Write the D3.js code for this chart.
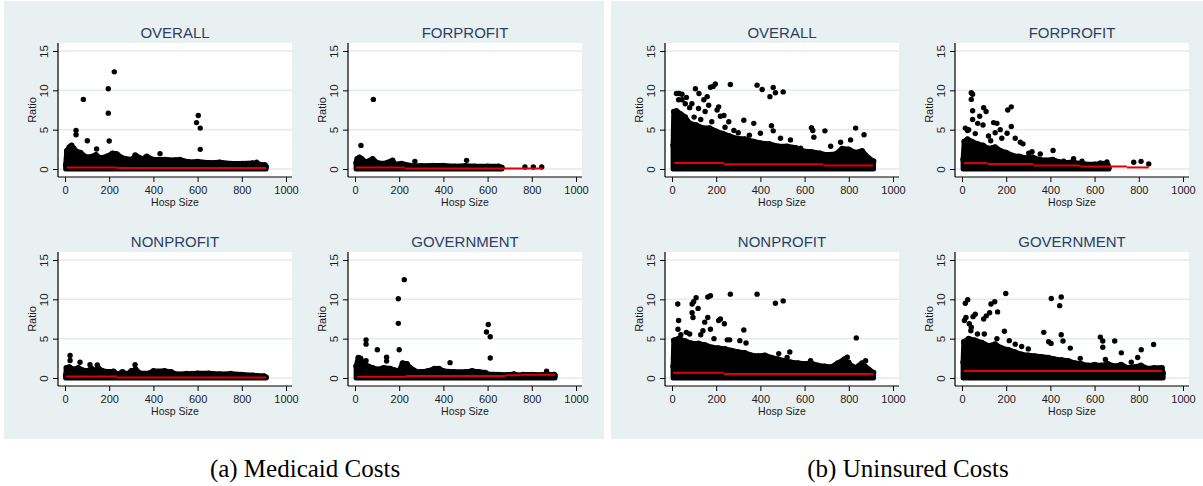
<!DOCTYPE html>
<html>
<head>
<meta charset="utf-8">
<script src="https://cdn.jsdelivr.net/npm/d3@7"></script>
<style>
body { margin: 0; background: #fff; }
svg text { font-family: "Liberation Sans", Arial, sans-serif; }
</style>
</head>
<body>
<svg id="chart" width="1203" height="486"></svg>
<script>
// ---- data ----
const xTicks = [0, 200, 400, 600, 800, 1000];
const yTicks = [0, 5, 10, 15];
const groupNames = ["OVERALL", "FORPROFIT", "NONPROFIT", "GOVERNMENT"];
const captions = ["(a) Medicaid Costs", "(b) Uninsured Costs"];

// cloud = top edge of the solid mass of points [hosp size, ratio]
// out = separate points [hosp size, ratio]
// med = red line pieces [from, to, ratio]
const medOverallCloud = [[3,0.5],[8,2.3],[20,2.8],[30,3.0],[40,2.6],[55,2.2],[70,2.1],[90,1.6],[110,1.5],[140,1.8],[160,1.4],[190,1.6],[215,2.0],[235,1.9],[260,1.4],[300,1.2],[320,1.7],[350,1.3],[370,1.6],[400,1.2],[450,1.2],[500,1.15],[520,1.2],[560,0.9],[600,0.95],[650,0.8],[700,0.85],[750,0.7],[800,0.7],[850,0.75],[880,0.6],[905,0.5],[910,0.3]];
const medOverallOut = [[83,8.85],[196,10.2],[223,12.35],[196,7.1],[50,4.9],[50,4.35],[101,3.6],[200,3.55],[143,2.55],[603,6.8],[595,5.9],[612,5.2],[612,2.5],[430,1.95],[317,1.8],[867,0.85],[50,2.2],[226,1.9]];
const medOverallMed = [[8,235,0.18],[235,910,0.12]];

const medForCloud = [[5,0.8],[10,1.3],[20,1.5],[30,1.3],[50,0.9],[80,1.3],[100,0.8],[130,0.7],[170,1.1],[180,0.6],[210,0.7],[250,0.45],[300,0.4],[350,0.45],[400,0.45],[450,0.35],[500,0.4],[540,0.35],[600,0.35],[650,0.35],[665,0.2]];
const medForOut = [[83,8.85],[27,3.0],[505,1.1],[271,0.97],[769,0.25],[807,0.25],[845,0.25]];
const medForMed = [[5,225,0.2],[225,850,0.05]];

const medNonCloud = [[3,0.3],[6,1.3],[20,1.4],[40,1.1],[60,1.3],[80,1.0],[100,0.9],[120,1.2],[140,0.9],[150,1.3],[170,0.9],[200,0.8],[220,0.85],[240,0.45],[260,0.8],[280,0.5],[300,0.9],[320,1.1],[340,0.6],[380,0.6],[400,0.9],[450,0.9],[480,0.8],[500,0.5],[550,0.55],[600,0.6],[650,0.6],[700,0.5],[750,0.55],[800,0.45],[850,0.35],[900,0.25],[910,0.1]];
const medNonOut = [[23,2.87],[23,2.23],[68,2.0],[113,1.7],[146,1.65],[317,1.7]];
const medNonMed = [[5,235,0.2],[235,910,0.05]];

const medGovCloud = [[5,1.5],[15,2.6],[25,2.5],[40,1.7],[60,1.5],[80,1.3],[100,1.1],[130,1.3],[160,1.2],[180,1.0],[200,0.9],[215,1.9],[235,1.8],[250,1.3],[280,0.8],[300,0.8],[330,0.9],[360,1.2],[380,1.2],[400,0.9],[450,0.8],[500,0.8],[530,0.9],[560,0.8],[590,0.7],[600,0.5],[650,0.45],[690,0.4],[720,0.5],[740,0.35],[760,0.45],[800,0.45],[850,0.4],[880,0.4],[900,0.45],[905,0.3]];
const medGovOut = [[223,12.5],[196,10.07],[196,6.95],[50,4.85],[50,4.3],[101,3.6],[200,3.6],[143,2.65],[143,2.15],[50,2.2],[603,6.8],[595,5.85],[612,5.25],[612,2.55],[430,1.95],[867,0.85],[902,0.45]];
const medGovMed = [[10,230,0.15],[230,680,0.25],[680,750,0.35],[750,905,0.4]];

const uniOverallCloud = [[5,3.0],[8,7.3],[20,7.4],[40,7.0],[60,6.6],[80,5.8],[110,5.6],[140,5.2],[170,5.2],[200,4.8],[230,4.5],[260,4.2],[290,3.9],[330,3.8],[370,3.5],[400,3.3],[440,3.2],[480,2.9],[520,2.9],[560,2.7],[590,2.3],[630,2.2],[670,2.0],[700,1.8],[740,1.9],[770,2.6],[800,2.5],[830,2.1],[860,2.3],[890,1.4],[912,1.0]];
const uniOverallOut = [[20,9.6],[32,9.6],[45,9.5],[45,8.8],[65,9.1],[106,10.2],[122,9.6],[144,8.8],[159,9.2],[174,10.4],[186,10.5],[196,10.8],[166,8.1],[211,7.9],[204,7.5],[219,6.7],[235,6.8],[257,6.0],[325,6.2],[370,5.8],[264,10.75],[385,10.66],[408,10.1],[443,9.2],[458,10.37],[468,9.7],[503,9.8],[450,5.5],[458,4.85],[400,4.55],[491,3.9],[631,5.25],[637,4.9],[642,4.05],[692,4.85],[831,5.2],[869,4.35],[808,3.7],[763,3.4],[718,2.9],[536,3.7],[582,2.65],[90,8.3],[120,7.7],[150,7.3],[80,7.8],[60,8.3],[30,8.8],[100,6.6],[130,6.3],[180,6.0],[240,5.3],[280,4.9],[300,4.6],[350,4.3]];
const uniOverallMed = [[10,235,0.75],[235,685,0.6],[685,910,0.45]];

const uniForCloud = [[5,1.2],[10,3.5],[25,3.8],[45,3.5],[70,3.2],[95,3.0],[120,2.6],[150,2.8],[175,2.3],[200,2.1],[230,1.7],[260,1.6],[290,1.4],[320,1.5],[350,1.2],[380,1.1],[410,1.2],[440,0.9],[470,0.8],[500,0.9],[530,0.7],[560,0.6],[600,0.6],[640,0.7],[660,0.5],[665,0.2]];
const uniForOut = [[42,9.7],[48,9.5],[42,8.85],[48,7.4],[48,6.3],[15,5.2],[30,5.0],[80,6.7],[98,7.8],[109,7.3],[71,5.8],[95,5.6],[143,5.9],[158,5.8],[207,7.5],[223,7.9],[223,5.4],[204,4.55],[241,3.9],[264,3.4],[276,3.2],[173,5.0],[302,2.0],[317,2.2],[354,1.9],[412,2.35],[460,1.0],[505,1.3],[543,1.0],[626,0.76],[656,0.9],[777,0.85],[810,0.97],[845,0.65],[60,4.5],[120,4.2],[150,4.6],[180,3.9],[130,3.6],[25,4.9]];
const uniForMed = [[8,116,0.75],[116,324,0.62],[324,535,0.46],[535,746,0.33],[746,845,0.2]];

const uniNonCloud = [[5,1.5],[8,4.8],[30,5.0],[60,4.7],[90,4.4],[120,4.4],[150,4.2],[180,3.9],[210,3.8],[240,3.7],[270,3.5],[300,3.3],[330,3.2],[360,2.9],[390,2.8],[420,2.9],[450,2.6],[480,2.4],[510,2.2],[540,2.0],[570,1.9],[600,1.8],[630,1.9],[660,1.6],[690,1.5],[720,1.4],[750,1.9],[780,2.4],[800,1.8],[830,1.3],[860,1.9],[890,1.1],[912,0.7]];
const uniNonOut = [[26,9.4],[30,7.3],[27,6.2],[91,9.4],[98,9.7],[109,10.2],[118,8.85],[91,8.3],[95,7.7],[162,10.3],[174,10.45],[162,7.7],[148,7.1],[211,7.3],[219,7.5],[237,6.9],[174,6.2],[65,5.8],[80,5.6],[264,10.66],[385,10.66],[468,9.5],[503,9.8],[325,6.1],[307,4.75],[335,4.45],[250,4.85],[261,4.85],[483,3.1],[533,3.3],[521,2.6],[834,5.1],[793,2.65],[800,2.0],[876,2.2],[627,2.2],[40,5.5],[130,5.5],[190,5.0],[140,6.0]];
const uniNonMed = [[5,234,0.68],[234,912,0.5]];

const uniGovCloud = [[5,2.0],[8,4.6],[30,5.0],[60,4.8],[90,4.5],[120,4.1],[150,4.3],[180,3.8],[210,3.6],[240,3.3],[270,3.0],[300,2.9],[330,2.8],[360,2.7],[390,2.6],[420,2.4],[450,2.3],[480,2.2],[510,1.9],[540,1.8],[570,1.6],[600,1.7],[630,1.6],[660,1.8],[690,1.5],[720,1.7],[750,1.3],[780,1.4],[810,1.6],[840,1.2],[870,1.3],[905,1.3],[910,0.6]];
const uniGovOut = [[15,9.5],[26,9.95],[11,7.3],[18,7.7],[50,7.8],[60,8.1],[33,6.9],[42,6.45],[98,7.5],[110,7.9],[125,8.3],[131,9.4],[148,9.7],[161,8.4],[198,10.75],[192,5.95],[101,5.6],[158,5.0],[214,4.75],[241,4.3],[404,10.1],[449,10.3],[442,9.2],[449,5.5],[457,4.7],[370,5.8],[392,4.6],[403,4.4],[490,3.8],[535,2.5],[626,5.2],[637,4.7],[637,3.9],[691,4.7],[721,3.2],[766,2.0],[795,2.6],[811,3.6],[867,4.25],[649,2.35],[70,5.6],[40,6.0],[270,4.0],[300,3.7]];
const uniGovMed = [[8,905,0.9]];

// ---- layout ----
const panelX = [4, 611];
const panelW = 600, panelH = 438;
const colX = [54, 344];
const rowY = [43, 252];
const plotW = 234, plotH = 134;
const bgColor = "#e9f0f2";
const titleColor = "#2b3f63";
const textColor = "#1b1b24";

const panels = [
    { caption: captions[0], groups: [
        { cloud: medOverallCloud, out: medOverallOut, med: medOverallMed },
        { cloud: medForCloud, out: medForOut, med: medForMed },
        { cloud: medNonCloud, out: medNonOut, med: medNonMed },
        { cloud: medGovCloud, out: medGovOut, med: medGovMed }] },
    { caption: captions[1], groups: [
        { cloud: uniOverallCloud, out: uniOverallOut, med: uniOverallMed },
        { cloud: uniForCloud, out: uniForOut, med: uniForMed },
        { cloud: uniNonCloud, out: uniNonOut, med: uniNonMed },
        { cloud: uniGovCloud, out: uniGovOut, med: uniGovMed }] }
];

const svg = d3.select("#chart");

let xScale = d3.scaleLinear().domain([0, 1000]).range([7, 228]);
let yScale = d3.scaleLinear().domain([0, 15]).range([126, 8]);

function drawPlot(g, name, d) {
    // white plot region
    g.append("rect")
        .attr("width", plotW)
        .attr("height", plotH)
        .attr("fill", "#fff");

    // grid lines
    g.selectAll(".grid")
        .data(yTicks)
        .join("line")
        .attr("x1", 0)
        .attr("x2", plotW)
        .attr("y1", v => yScale(v))
        .attr("y2", v => yScale(v))
        .attr("stroke", "#e3ebee")
        .attr("stroke-width", 1.5);

    // solid mass of points
    let area = d3.area()
        .x(p => xScale(p[0]))
        .y0(yScale(0))
        .y1(p => yScale(p[1]));

    g.append("path")
        .datum(d.cloud)
        .attr("d", area)
        .attr("fill", "#000")
        .attr("stroke", "#000")
        .attr("stroke-width", 5)
        .attr("stroke-linejoin", "round");

    g.selectAll(".edge")
        .data(d.cloud)
        .join("circle")
        .attr("cx", p => xScale(p[0]))
        .attr("cy", p => yScale(p[1]))
        .attr("r", 2.8)
        .attr("fill", "#000");

    // separate points
    g.selectAll(".pt")
        .data(d.out)
        .join("circle")
        .attr("cx", p => xScale(p[0]))
        .attr("cy", p => yScale(p[1]))
        .attr("r", 2.7)
        .attr("fill", "#000");

    // red line
    g.selectAll(".med")
        .data(d.med)
        .join("line")
        .attr("x1", s => xScale(s[0]))
        .attr("x2", s => xScale(s[1]))
        .attr("y1", s => yScale(s[2]))
        .attr("y2", s => yScale(s[2]))
        .attr("stroke", "#e00000")
        .attr("stroke-width", 2);

    // axis lines
    g.append("line")
        .attr("x1", 0).attr("x2", 0)
        .attr("y1", 0).attr("y2", plotH)
        .attr("stroke", "#000").attr("stroke-width", 1.2);
    g.append("line")
        .attr("x1", 0).attr("x2", plotW)
        .attr("y1", plotH).attr("y2", plotH)
        .attr("stroke", "#000").attr("stroke-width", 1.2);

    // y axis
    let yAxis = g.append("g")
        .call(d3.axisLeft(yScale).tickValues(yTicks).tickSize(5).tickSizeOuter(0));
    yAxis.select(".domain").remove();
    yAxis.selectAll("line").attr("stroke", "#000");
    yAxis.selectAll("text")
        .attr("x", null).attr("dy", null)
        .attr("transform", "translate(-10,0) rotate(-90)")
        .attr("text-anchor", "middle")
        .attr("fill", textColor)
        .style("font-size", "11.5px")
        .style("font-family", "Liberation Sans, Arial, sans-serif");

    // x axis
    let xAxis = g.append("g")
        .attr("transform", "translate(0," + plotH + ")")
        .call(d3.axisBottom(xScale).tickValues(xTicks).tickFormat(d3.format("d")).tickSize(5).tickSizeOuter(0));
    xAxis.select(".domain").remove();
    xAxis.selectAll("line").attr("stroke", "#000");
    xAxis.selectAll("text")
        .attr("y", 17).attr("dy", null)
        .attr("fill", textColor)
        .style("font-size", "11px")
        .style("font-family", "Liberation Sans, Arial, sans-serif");

    // axis titles
    g.append("text")
        .attr("x", plotW / 2)
        .attr("y", plotH + 28.5)
        .attr("text-anchor", "middle")
        .attr("fill", textColor)
        .style("font-size", "10.5px")
        .text("Hosp Size");

    g.append("text")
        .attr("transform", "translate(-22," + (plotH / 2) + ") rotate(-90)")
        .attr("text-anchor", "middle")
        .attr("fill", textColor)
        .style("font-size", "11px")
        .text("Ratio");

    // title
    g.append("text")
        .attr("x", plotW / 2)
        .attr("y", -5)
        .attr("text-anchor", "middle")
        .attr("fill", titleColor)
        .style("font-size", "15px")
        .text(name);
}

panels.forEach((panel, pi) => {
    let pg = svg.append("g")
        .attr("transform", "translate(" + panelX[pi] + ",1)");

    pg.append("rect")
        .attr("width", panelW)
        .attr("height", panelH)
        .attr("fill", bgColor);

    panel.groups.forEach((grp, gi) => {
        let g = pg.append("g")
            .attr("transform", "translate(" + colX[gi % 2] + "," + (rowY[Math.floor(gi / 2)] - 1) + ")");
        drawPlot(g, groupNames[gi], grp);
    });

    svg.append("text")
        .attr("x", pi === 0 ? 305 : 908)
        .attr("y", 477)
        .attr("text-anchor", "middle")
        .attr("fill", "#000")
        .style("font-family", "Liberation Serif, Times New Roman, serif")
        .style("font-size", "25px")
        .text(panel.caption);
});
</script>
</body>
</html>
